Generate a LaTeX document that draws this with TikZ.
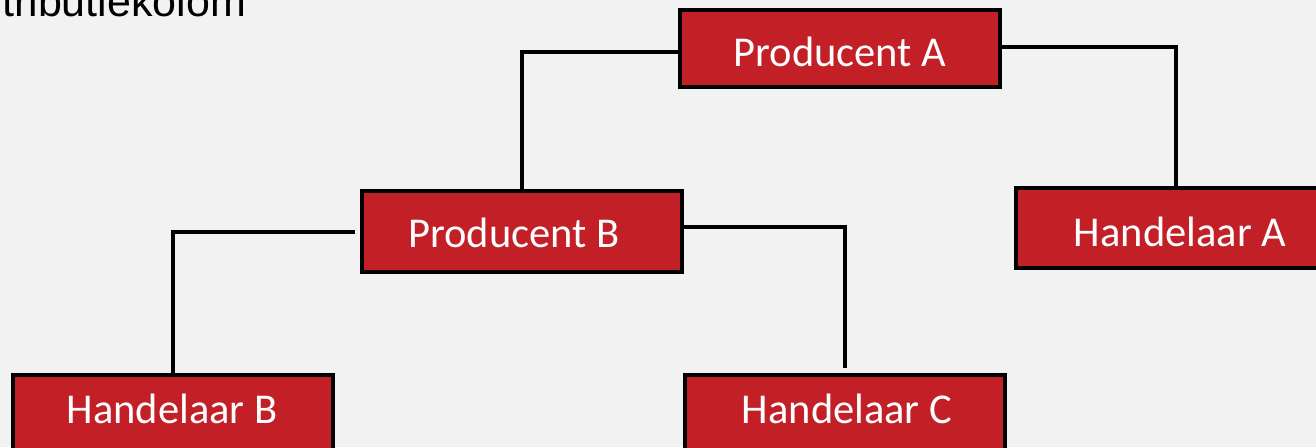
\documentclass[tikz,border=0pt]{standalone}
\usepackage{fontspec}
\setmainfont{Carlito}
\newfontfamily\arialfont{Liberation Sans}
\usetikzlibrary{calc}
\definecolor{bg}{HTML}{F2F2F2}
\definecolor{boxred}{HTML}{C21F27}
\tikzset{
  orgbox/.style={draw=black, line width=3.6pt, fill=boxred, minimum width=320pt, inner sep=0pt},
  boxtext/.style={anchor=base, inner sep=0pt, text=white, font=\fontsize{42.5}{42.5}\selectfont},
  link/.style={draw=black, line width=3.4pt}
}
\begin{document}
\begin{tikzpicture}[x=1pt,y=-1pt]
\useasboundingbox (0,0) rectangle (1316,447);
\clip (0,0) rectangle (1316,447);
\fill[bg] (0,0) rectangle (1316,447);
\node[anchor=base west, inner sep=0pt, font=\arialfont\fontsize{43}{43}\selectfont] (title) at (2,16.5) {tributiekolom};
\node[orgbox, minimum height=77pt] (PA) at (840,48.5) {};
\node[orgbox, minimum height=81pt] (PB) at (522,231.5) {};
\node[orgbox, minimum height=80pt] (HA) at (1176,228) {};
\node[orgbox, minimum height=80pt] (HB) at (173,415) {};
\node[orgbox, minimum height=80pt] (HC) at (845,415) {};
\node[boxtext] (PAt) at (840,66) {Producent A};
\node[boxtext] (PBt) at (514,247) {Producent B};
\node[boxtext] (HAt) at (1180,246) {Handelaar A};
\node[boxtext] (HBt) at (172,423) {Handelaar B};
\node[boxtext] (HCt) at (847,423) {Handelaar C};
\draw[link] ($(PA.west)+(0,3.5)$) -| (PB.north);
\draw[link] ($(PA.east)+(0,-1.5)$) -| (HA.north);
\draw[link] ($(PB.west)+(-5,0.5)$) -| (HB.north);
\draw[link] ($(PB.east)+(0,-4.5)$) -| ($(HC.north)+(0,-5)$);
\end{tikzpicture}
\end{document}
